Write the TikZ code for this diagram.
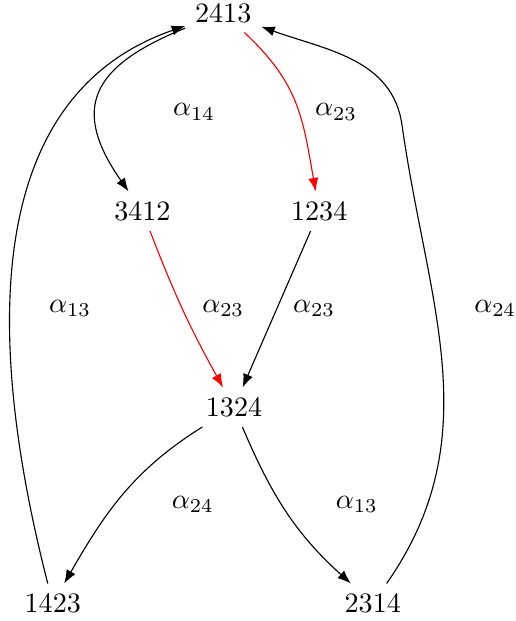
\documentclass[tikz,border=0pt]{standalone}
\usepackage{amsmath, amssymb}
\usetikzlibrary{positioning, calc, arrows.meta}
\tikzset{
    perm/.style={inner sep=3.33pt},
    lbl/.style={inner sep=1pt},
    arrow/.style={-Latex, color=black},
    redarrow/.style={-Latex, color=red},
}

\begin{document}
\begin{tikzpicture}[>=Latex]
                \useasboundingbox (0,0) rectangle (6.45,-7.7625);

                % Permutazioni (nodi)
                \node[perm] (n2413) at (2.79, -0.16) {2413};
                \node[perm] (n3412) at (1.78, -2.64) {3412};
                \node[perm] (n1234) at (3.99, -2.64) {1234};
                \node[perm] (n1324) at (2.925, -5.09) {1324};
                \node[perm] (n1423) at (0.66, -7.54) {1423};
                \node[perm] (n2314) at (4.66, -7.54) {2314};

                % Etichette delle mosse
                \node[lbl] (l14a) at (2.425, -1.40) {$\alpha_{14}$};
                \node[lbl] (l23a) at (4.20, -1.40) {$\alpha_{23}$};
                \node[lbl] (l13a) at (0.875, -3.86) {$\alpha_{13}$};
                \node[lbl] (l23b) at (2.79, -3.86) {$\alpha_{23}$};
                \node[lbl] (l23c) at (3.925, -3.86) {$\alpha_{23}$};
                \node[lbl] (l24a) at (6.19, -3.86) {$\alpha_{24}$};
                \node[lbl] (l24b) at (2.41, -6.31) {$\alpha_{24}$};
                \node[lbl] (l13b) at (4.46, -6.31) {$\alpha_{13}$};

                % Punto di passaggio per l'arco di destra
                \coordinate (bend24) at (5.025, -1.5625);

                % Archi in rosso
                \draw[redarrow] (n2413) to[out=-43, in=100, looseness=1.1] (n1234);
                \draw[redarrow] (n3412) to[bend right=4] (n1324);

                % Archi in nero
                \draw[arrow] (n2413) to[out=202, in=125, looseness=1.5] (n3412);
                \draw[arrow] (n1234) -- (n1324);
                \draw[arrow] (n1324) to[out=212, in=60] (n1423);
                \draw[arrow] (n1324) to[out=-67, in=138] (n2314);
                \draw[arrow] (n1423) .. controls (-0.31, -3.75) and (0, -1.125) .. (n2413);
                \draw[arrow] (n2314) to[out=55, in=-82] (bend24) to[out=98, in=-20] (n2413);

\end{tikzpicture}
\end{document}
